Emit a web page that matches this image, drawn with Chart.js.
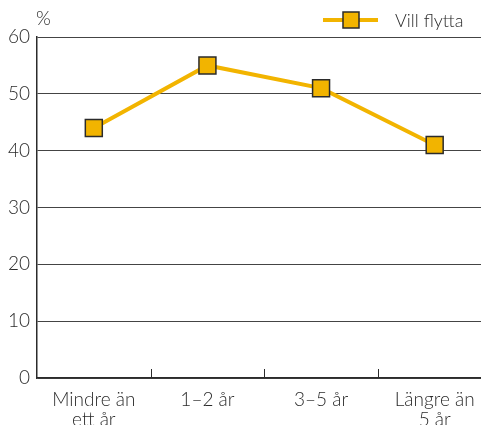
<!DOCTYPE html>
<html>
<head>
<meta charset="utf-8">
<script src="https://cdn.jsdelivr.net/npm/chart.js@4/dist/chart.umd.min.js"></script>
<style>
  html, body { margin: 0; padding: 0; background: #fff; overflow: hidden; }
  canvas { display: block; }
</style>
</head>
<body>
<canvas id="chart" width="505" height="425"></canvas>
<script>
const categories = [['Mindre än', 'ett år'], '1–2 år', '3–5 år', ['Längre än', '5 år']];
const villFlytta = [44, 55, 51, 41];
const seriesName = 'Vill flytta';
const yTicks = [0, 10, 20, 30, 40, 50, 60];

const yellow = '#f2b400';
const ink = '#2b2b2b';
const fontFamily = 'Lato, "Open Sans", sans-serif';

// inward tick marks between categories + legend + "%" label
const extras = {
    id: 'extras',
    afterDraw(chart) {
        const ctx = chart.ctx;
        const x = chart.scales.x;
        const area = chart.chartArea;
        ctx.save();
        ctx.strokeStyle = ink;
        ctx.lineWidth = 1;
        for (let i = 0; i < categories.length - 1; i++) {
            const px = Math.round((x.getPixelForValue(i) + x.getPixelForValue(i + 1)) / 2) + 0.5;
            ctx.beginPath();
            ctx.moveTo(px, area.bottom - 9);
            ctx.lineTo(px, area.bottom);
            ctx.stroke();
        }

        ctx.font = '300 19px ' + fontFamily;
        ctx.fillStyle = ink;
        ctx.textBaseline = 'alphabetic';
        ctx.textAlign = 'left';
        ctx.fillText('%', area.left - 1, 25);

        // legend
        const ly = 20;
        ctx.strokeStyle = yellow;
        ctx.lineWidth = 4;
        ctx.beginPath();
        ctx.moveTo(323, ly);
        ctx.lineTo(378, ly);
        ctx.stroke();
        ctx.fillStyle = yellow;
        ctx.fillRect(343, ly - 8, 16, 16);
        ctx.strokeStyle = ink;
        ctx.lineWidth = 1.5;
        ctx.strokeRect(343, ly - 8, 16, 16);
        ctx.font = '300 18px ' + fontFamily;
        ctx.fillStyle = ink;
        ctx.fillText(seriesName, 395, 27);
        ctx.restore();
    }
};

const chart = new Chart(document.getElementById('chart'), {
    type: 'line',
    data: {
        labels: categories,
        datasets: [{
            label: seriesName,
            data: villFlytta,
            borderColor: yellow,
            borderWidth: 4,
            pointStyle: 'rect',
            pointRadius: 12,
            pointHoverRadius: 12,
            pointBackgroundColor: yellow,
            pointBorderColor: ink,
            pointBorderWidth: 1.5,
            tension: 0,
            fill: false,
        }],
    },
    options: {
        responsive: false,
        animation: false,
        devicePixelRatio: 1,
        layout: { padding: { top: 37, left: 0, right: 0, bottom: 0 } },
        plugins: {
            legend: { display: false },
            tooltip: { enabled: false },
        },
        scales: {
            x: {
                offset: true,
                grid: { display: false, drawTicks: false },
                border: { display: true, color: ink, width: 1.5 },
                ticks: {
                    color: ink,
                    font: { family: fontFamily, size: 19, weight: 300, lineHeight: 1.05 },
                    padding: 12,
                    maxRotation: 0,
                    autoSkip: false,
                },
                afterFit(scale) { scale.height = 47; },
            },
            y: {
                min: 0,
                max: 60,
                afterBuildTicks(scale) { scale.ticks = yTicks.map(v => ({ value: v })); },
                grid: { color: '#444', lineWidth: 1, drawTicks: false },
                border: { display: true, color: ink, width: 1.5 },
                ticks: {
                    color: ink,
                    font: { family: fontFamily, size: 19, weight: 300 },
                    padding: 7,
                },
                afterFit(scale) { scale.width = 37; },
            },
        },
    },
    plugins: [extras],
});
</script>
</body>
</html>
